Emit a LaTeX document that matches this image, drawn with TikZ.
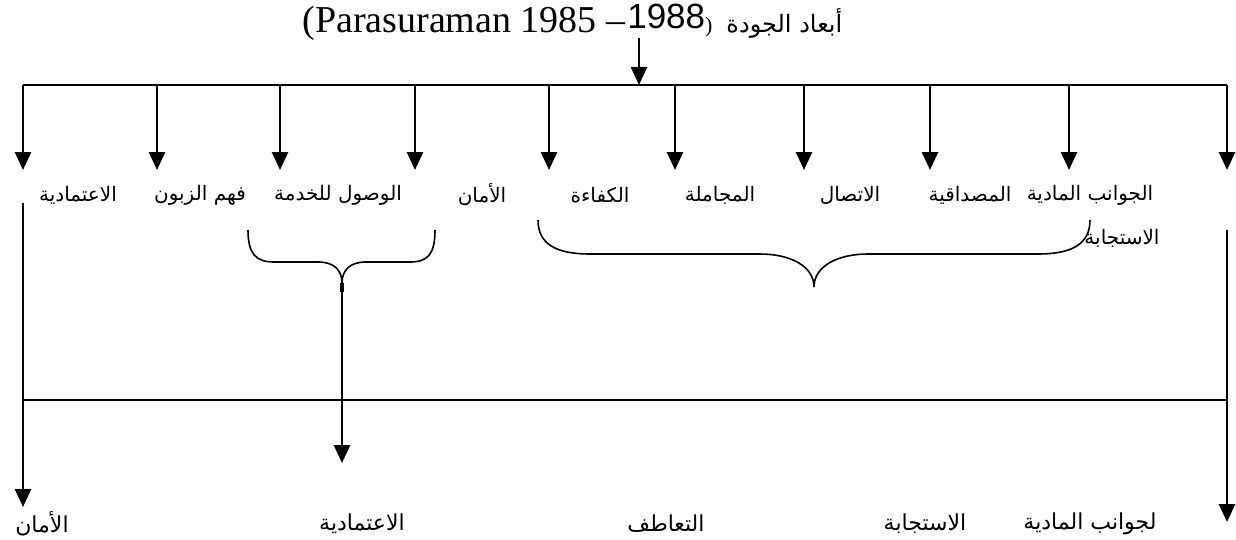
\documentclass[tikz,border=0pt]{standalone}
\usepackage{fontspec}
\usetikzlibrary{arrows.meta}
\TeXXeTstate=1
\setmainfont{Liberation Serif}
\newfontfamily\arabicfont[Script=Arabic]{DejaVu Sans}
\newfontfamily\digitfont{Liberation Sans}
\newcommand{\rtl}[1]{\beginR #1\endR}

\tikzset{
  lbl/.style={inner sep=0pt, font=\arabicfont\fontsize{10}{12}\selectfont},
  res/.style={inner sep=0pt, font=\arabicfont\fontsize{11}{13}\selectfont},
  darrow/.style={line width=1.4pt, -{Triangle[width=8pt,length=9pt]}},
  bar/.style={line width=1.1pt},
  brace/.style={line width=0.8pt},
}

\begin{document}
\begin{tikzpicture}[x=0.5pt,y=-0.5pt]
\useasboundingbox (0,0) rectangle (1236,540);

% title
\node[anchor=base west, inner sep=0pt, font=\fontsize{19}{22}\selectfont] (title) at (302,33)
  {(Parasuraman 1985 --\hspace{1pt}{\digitfont\fontsize{17.5}{20}\selectfont\raisebox{2pt}{1988}}{\fontsize{11}{12}\selectfont)}\hspace{7pt}{\arabicfont\fontsize{12}{14}\selectfont\rtl{أبعاد الجودة}}};
\coordinate (tsrc) at (639,38);
\coordinate (ttop) at (639,85);
\draw[darrow] (tsrc) -- (ttop);

% upper distribution bar
\coordinate (barL) at (23,85);
\coordinate (barR) at (1227,85);
\draw[bar] (barL) -- (barR);

\foreach \x [count=\i] in {23,157,280,415,549,675,804,930,1069,1227} {
  \coordinate (s\i) at (\x,85);
  \coordinate (e\i) at (\x,170);
  \draw[darrow] (s\i) -- (e\i);
}

% dimension labels
\node[lbl] (d1) at (78,195) {\rtl{الاعتمادية}};
\node[lbl] (d2) at (200,195) {\rtl{فهم الزبون}};
\node[lbl] (d3) at (338,195) {\rtl{الوصول للخدمة}};
\node[lbl] (d4) at (482,195) {\rtl{الأمان}};
\node[lbl] (d5) at (600,195) {\rtl{الكفاءة}};
\node[lbl] (d6) at (720,195) {\rtl{المجاملة}};
\node[lbl] (d7) at (850,195) {\rtl{الاتصال}};
\node[lbl] (d8) at (970,195) {\rtl{المصداقية}};
\node[lbl] (d9) at (1090,195) {\rtl{الجوانب المادية}};
\node[lbl] (d10) at (1122,238) {\rtl{الاستجابة}};

% left brace
\coordinate (lb) at (342,283);
\draw[brace] (248,230) .. controls (248,254) and (256,262) .. (274,262)
  -- (318,262) .. controls (334,262) and (342,270) .. (lb)
  .. controls (342,270) and (350,262) .. (366,262)
  -- (410,262) .. controls (428,262) and (435,254) .. (435,230);
\draw[line width=1.6pt] (lb) -- (342,292);

% right brace
\coordinate (rb) at (814,287);
\draw[brace] (538,220) .. controls (538,244) and (556,254) .. (590,254)
  -- (760,254) .. controls (790,254) and (814,266) .. (rb)
  .. controls (814,266) and (838,254) .. (868,254)
  -- (1038,254) .. controls (1072,254) and (1090,244) .. (1090,220);

% lower collector
\coordinate (lowL) at (23,400);
\coordinate (lowR) at (1227,400);
\draw[bar] (lowL) -- (lowR);

\coordinate (lsrc) at (23,203);
\coordinate (ltip) at (23,507);
\coordinate (rsrc) at (1227,230);
\coordinate (rtip) at (1227,522);
\coordinate (mtip) at (342,463);
\draw[darrow] (lsrc) -- (ltip);
\draw[darrow] (rsrc) -- (rtip);
\draw[darrow] (lb) -- (mtip);

% resulting dimensions
\node[res] (r1) at (42,524) {\rtl{الأمان}};
\node[res] (r2) at (362,524) {\rtl{الاعتمادية}};
\node[res] (r3) at (666,524) {\rtl{التعاطف}};
\node[res] (r4) at (925,524) {\rtl{الاستجابة}};
\node[res] (r5) at (1090,524) {\rtl{لجوانب المادية}};
\end{tikzpicture}
\end{document}
